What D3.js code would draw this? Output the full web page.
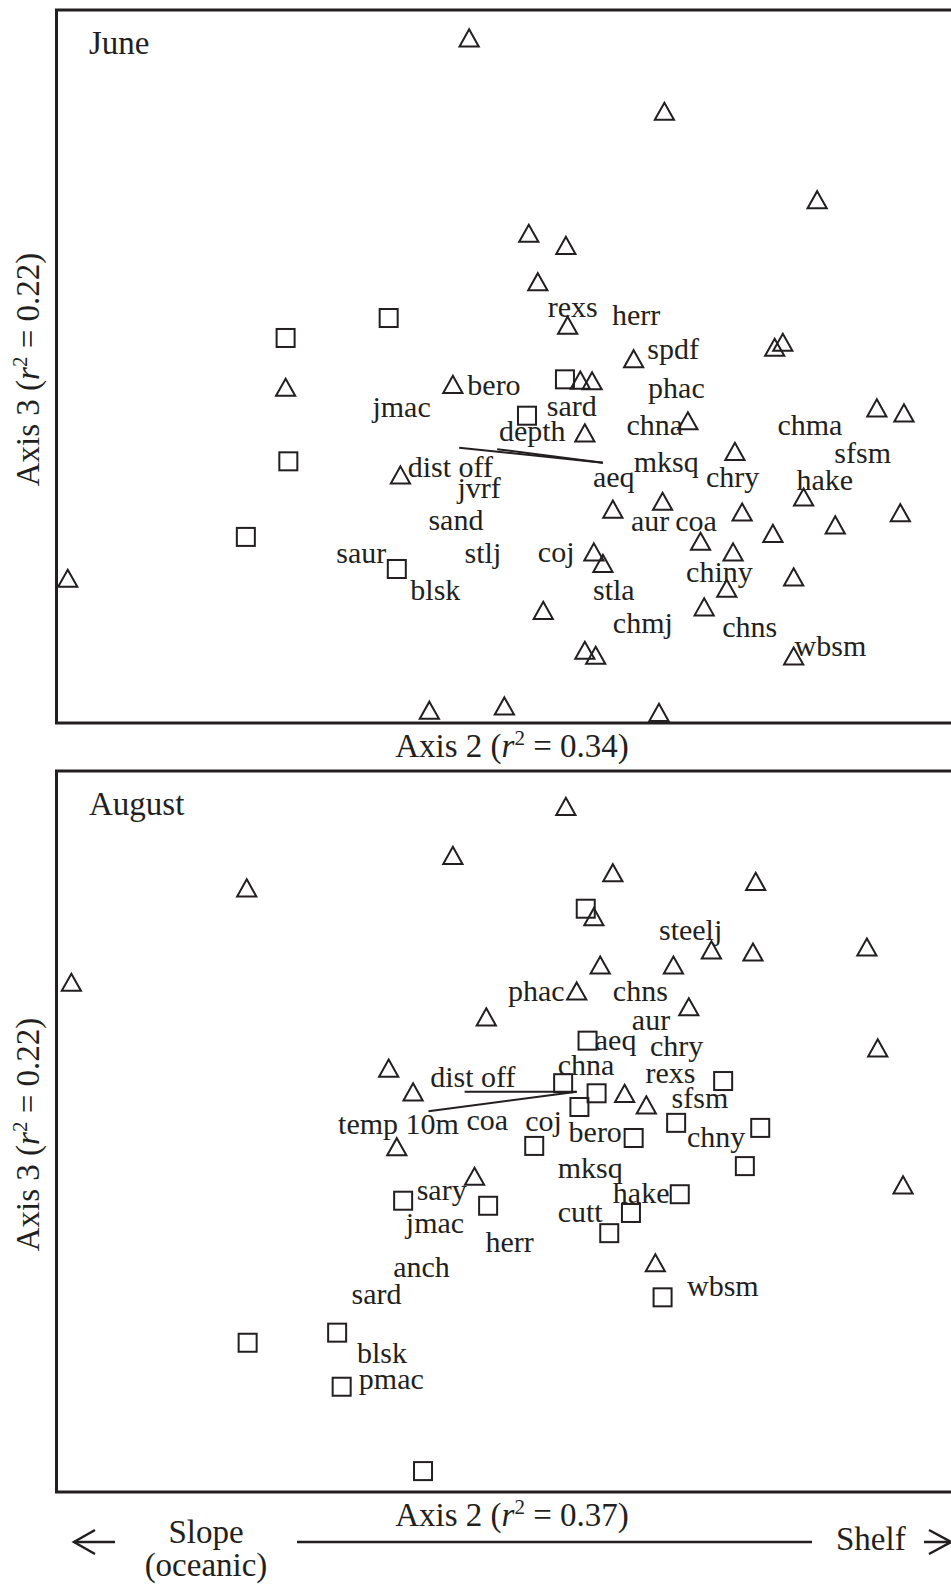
<!DOCTYPE html>
<html>
<head>
<meta charset="utf-8">
<script src="https://cdn.jsdelivr.net/npm/d3@7"></script>
<style>
html,body{margin:0;padding:0;background:#fff;}
svg{display:block;}
text{font-family:'Liberation Serif','Times New Roman',Times,serif;fill:#231f20;}
</style>
</head>
<body>
<svg id="chart" width="951" height="1587"></svg>
<script>
// ---- DATA (ordination scores, arbitrary units 0-100 across each panel) ----
const juneTriangles = [
  [45.7,96.1],[67.3,85.8],[84.2,73.4],[52.3,68.7],[56.4,67.0],[53.3,61.9],[56.6,55.8],
  [63.9,51.1],[79.5,52.7],[80.4,53.4],[58.0,48.1],[59.3,48.0],[25.4,47.1],[43.9,47.5],
  [58.5,40.7],[69.9,42.4],[90.8,44.2],[93.8,43.5],[75.1,38.1],[38.1,34.8],[82.7,31.7],
  [67.1,31.1],[61.6,30.0],[75.9,29.6],[93.4,29.5],[86.2,27.8],[79.3,26.6],[71.3,25.5],
  [74.9,24.0],[59.5,24.0],[60.5,22.4],[1.3,20.3],[81.6,20.5],[74.2,18.9],[53.9,15.8],
  [71.7,16.3],[81.6,9.4],[58.5,10.2],[59.7,9.5],[49.6,2.4],[66.7,1.5],[41.3,1.8]
];
const juneSquares = [
  [25.4,54.0],[36.8,56.8],[56.3,48.2],[52.1,43.1],[25.7,36.7],[21.0,26.1],[37.7,21.6]
];
const juneLabels = [
  ["rexs",54.4,56.9],["herr",61.5,55.8],["spdf",65.4,51.1],["bero",45.5,46.0],
  ["jmac",35.0,42.9],["sard",54.3,43.1],["phac",65.5,45.6],["depth",49.0,39.6],
  ["chna",63.1,40.4],["chma",79.8,40.4],["sfsm",86.1,36.5],["dist off",38.9,34.5],
  ["mksq",63.9,35.2],["aeq",59.4,33.1],["chry",71.9,33.1],["hake",81.9,32.7],
  ["jvrf",44.4,31.6],["sand",41.2,27.1],["aur",63.6,26.9],["coa",68.5,26.9],
  ["saur",31.0,22.4],["stlj",45.2,22.4],["coj",53.3,22.6],["chiny",69.7,19.8],
  ["blsk",39.2,17.3],["stla",59.4,17.3],["chmj",61.6,12.6],["chns",73.7,12.1],
  ["wbsm",81.7,9.4]
];
const juneVectorOrigin = [60.5,36.5];
const juneVectors = [["dist off",44.6,38.6],["depth",48.8,38.4]];

const augustTriangles = [
  [43.9,88.3],[21.1,83.8],[1.7,70.7],[36.8,58.8],[39.5,55.5],[37.7,47.9],[56.4,95.1],
  [61.6,85.9],[77.4,84.7],[59.5,79.8],[72.5,75.2],[77.1,74.9],[89.7,75.6],[60.2,73.1],
  [68.3,73.1],[57.6,69.5],[70.0,67.3],[47.6,65.9],[90.9,61.6],[62.9,55.3],[65.3,53.7],
  [46.3,43.8],[93.7,42.6],[66.3,31.8]
];
const augustSquares = [
  [58.6,80.9],[58.8,62.6],[73.8,57.0],[56.1,56.7],[59.8,55.3],[57.9,53.4],[68.6,51.2],
  [77.9,50.5],[63.9,49.1],[52.9,48.0],[76.2,45.2],[38.4,40.4],[47.8,39.7],[69.0,41.3],
  [63.6,38.7],[61.2,35.9],[67.1,27.0],[21.2,20.7],[31.1,22.1],[31.6,14.6],[40.6,2.9]
];
const augustLabels = [
  ["steelj",66.7,76.6],["phac",50.0,68.1],["chns",61.6,68.1],["aur",63.7,64.1],
  ["aeq",59.6,61.3],["chry",65.7,60.5],["chna",55.5,57.8],["rexs",65.2,56.7],
  ["dist off",41.4,56.2],["sfsm",68.1,53.3],["temp 10m",31.2,49.7],["coa",45.4,50.2],
  ["coj",51.9,50.1],["bero",56.7,48.5],["chny",69.8,47.9],["mksq",55.5,43.6],
  ["sary",39.9,40.5],["hake",61.6,40.1],["cutt",55.5,37.4],["jmac",38.7,35.9],
  ["herr",47.5,33.3],["anch",37.3,29.8],["wbsm",69.8,27.2],["sard",32.7,26.1],
  ["blsk",33.3,17.9],["pmac",33.5,14.3]
];
const augustVectorOrigin = [57.6,55.5];
const augustVectors = [["dist off",45.2,55.5],["temp 10m",41.2,52.8]];

const panelNames = ["June","August"];
const axis2R2 = ["0.34","0.37"];
const axis3R2 = ["0.22","0.22"];
const gradientLabels = ["Slope","(oceanic)","Shelf"];

// ---- DRAWING ----
const svg = d3.select("#chart");
const ink = "#231f20";
svg.append("rect").attr("width",951).attr("height",1587).attr("fill","#fff");

const x = d3.scaleLinear().domain([0,100]).range([56,960]);

const panels = [
  {name:panelNames[0], top:10, bottom:723, tri:juneTriangles, sq:juneSquares, labels:juneLabels,
   origin:juneVectorOrigin, vectors:juneVectors, r2x:axis2R2[0], r2y:axis3R2[0]},
  {name:panelNames[1], top:771, bottom:1492, tri:augustTriangles, sq:augustSquares, labels:augustLabels,
   origin:augustVectorOrigin, vectors:augustVectors, r2x:axis2R2[1], r2y:axis3R2[1]}
];

const triPath = "M0,-8.5 L9.6,8.6 L-9.6,8.6 Z";

panels.forEach(p => {
  const y = d3.scaleLinear().domain([0,100]).range([p.bottom, p.top]);
  const g = svg.append("g");

  // frame (open on the right, beyond the picture edge)
  g.append("path")
    .attr("d", `M${x(100)+10},${p.top} H56.5 V${p.bottom} H${x(100)+10}`)
    .attr("fill","none").attr("stroke",ink).attr("stroke-width",3);

  // vectors
  g.selectAll(".vec").data(p.vectors).enter().append("line")
    .attr("x1", x(p.origin[0])).attr("y1", y(p.origin[1]))
    .attr("x2", d => x(d[1])).attr("y2", d => y(d[2]))
    .attr("stroke",ink).attr("stroke-width",2);

  // triangles
  g.selectAll(".tri").data(p.tri).enter().append("path")
    .attr("d", triPath)
    .attr("transform", d => `translate(${x(d[0])},${y(d[1])})`)
    .attr("fill","none").attr("stroke",ink).attr("stroke-width",2);

  // squares
  g.selectAll(".sq").data(p.sq).enter().append("rect")
    .attr("x", d => x(d[0]) - 9).attr("y", d => y(d[1]) - 9)
    .attr("width",18).attr("height",18)
    .attr("fill","none").attr("stroke",ink).attr("stroke-width",2);

  // species / variable labels
  g.selectAll(".lab").data(p.labels).enter().append("text")
    .attr("x", d => x(d[1])).attr("y", d => y(d[2]))
    .attr("font-size",30)
    .text(d => d[0]);

  // panel name
  g.append("text").attr("x",56+33).attr("y",p.top+44)
    .attr("font-size",33).text(p.name);

  // x axis label
  const xl = g.append("text").attr("x",512).attr("y",p.bottom+34)
    .attr("text-anchor","middle").attr("font-size",33);
  xl.append("tspan").text("Axis 2 (");
  xl.append("tspan").attr("font-style","italic").text("r");
  xl.append("tspan").attr("font-size",21).attr("dy",-12).text("2");
  xl.append("tspan").attr("dy",12).text(" = " + p.r2x + ")");

  // y axis label
  const yl = g.append("text")
    .attr("transform", `translate(39,${(p.top+p.bottom)/2+3}) rotate(-90)`)
    .attr("text-anchor","middle").attr("font-size",33);
  yl.append("tspan").text("Axis 3 (");
  yl.append("tspan").attr("font-style","italic").text("r");
  yl.append("tspan").attr("font-size",21).attr("dy",-12).text("2");
  yl.append("tspan").attr("dy",12).text(" = " + p.r2y + ")");
});

// gradient annotation at bottom
const ay = 1542;
const ann = svg.append("g").attr("stroke",ink).attr("fill","none").attr("stroke-width",2.5);
ann.append("line").attr("x1",74).attr("y1",ay).attr("x2",115).attr("y2",ay);
ann.append("path").attr("d",`M95,${ay-12} L74,${ay} L95,${ay+12}`);
ann.append("line").attr("x1",297).attr("y1",ay).attr("x2",812).attr("y2",ay);
ann.append("line").attr("x1",924).attr("y1",ay).attr("x2",950).attr("y2",ay);
ann.append("path").attr("d",`M929,${ay-12} L951,${ay} L929,${ay+12}`);

svg.append("text").attr("x",206).attr("y",1543).attr("text-anchor","middle")
  .attr("font-size",33).text(gradientLabels[0]);
svg.append("text").attr("x",206).attr("y",1576).attr("text-anchor","middle")
  .attr("font-size",33).text(gradientLabels[1]);
svg.append("text").attr("x",836).attr("y",1550)
  .attr("font-size",33).text(gradientLabels[2]);
</script>
</body>
</html>
